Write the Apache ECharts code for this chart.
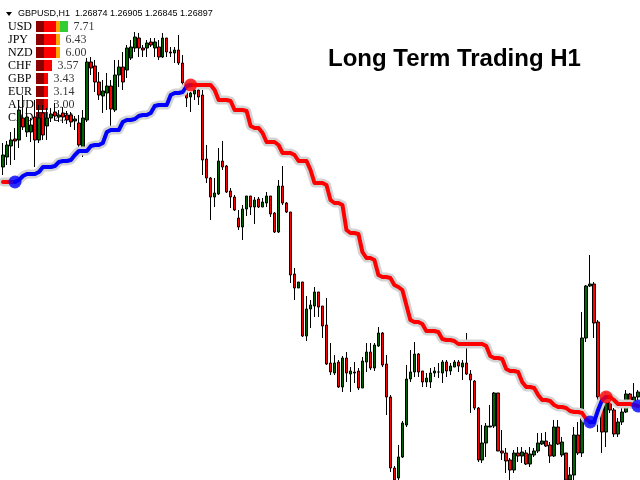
<!DOCTYPE html>
<html>
<head>
<meta charset="utf-8">
<script src="https://cdn.jsdelivr.net/npm/echarts@6/dist/echarts.min.js"></script>
<style>
  html, body { margin: 0; padding: 0; background: #fff; }
  #chart { width: 640px; height: 480px; }
</style>
</head>
<body>
<div id="chart"></div>
<script>
// GBPUSD H1, prices in chart points (higher = higher price)
var opens = [313,323,334,341,340,362,348,348,363,340, 367,354,362,368,363,367,365,365,359,357,
  327,360,418,414,398,384,387,394,370,405, 413,410,422,432,442,432,432,438,432,433,
  423,442,428,427,430,417,388,383,386,390, 385,321,302,283,286,319,314,289,283,262,
  253,271,284,273,281,273,277,284,267,248, 294,277,268,206,192,198,144,171,174,188,
  174,155,117,107,118,93,122,106,108,109, 92,118,128,112,134,147,116,83,12,2,
  23,55,101,108,126,109,98,98,107,108, 107,118,109,113,118,113,117,106,99,72,
  20,37,53,54,87,29,27,20,10,27, 24,27,16,25,29,36,39,35,24,53,
  25,27,0,5,45,27,142,194,196,158, 83,48,78,70,46,58,68,86,77,83];
var closes = [325,335,340,339,370,353,363,355,340,362, 345,362,366,364,365,363,360,358,361,335,
  362,418,412,398,385,389,394,371,405,413, 398,432,433,443,432,430,437,435,438,423,
  442,428,427,430,417,397,382,387,390,383, 320,302,283,287,319,313,288,283,270,253,
  271,284,273,280,273,278,284,266,248,294, 277,268,205,192,198,144,171,175,188,173,
  154,116,108,117,93,122,107,109,107,92, 119,128,112,135,147,115,83,12,0,23,
  57,101,108,126,108,98,102,107,109,108, 118,109,114,118,114,117,106,100,72,20,
  37,54,54,87,29,27,19,10,27,24, 28,16,26,29,37,39,34,24,53,36,
  38,0,5,45,27,142,194,196,157,83, 48,77,70,46,58,68,86,77,83,88];
var lows = [305,315,315,320,332,350,343,338,313,337, 340,340,358,360,358,357,356,353,350,330,
  323,358,405,388,380,367,370,353,368,393, 390,402,420,428,423,423,423,433,423,420,
  422,423,423,417,415,390,373,368,380,375, 305,297,260,273,285,310,287,272,269,250,
  240,264,265,256,272,273,273,263,247,247, 275,267,197,180,192,143,139,152,163,163,
  142,115,105,105,92,88,98,88,97,90, 92,108,110,109,133,113,65,8,-4,-2,
  22,53,98,103,103,93,93,92,103,102, 97,103,105,113,108,100,105,67,70,18,
  17,23,53,52,29,20,7,0,7,18, 17,15,13,23,27,35,33,17,23,35,
  23,-5,-5,-2,25,23,138,193,142,48, 27,33,67,43,43,55,67,75,73,80];
var highs = [337,339,348,352,380,385,372,362,380,375, 375,372,372,377,370,373,369,368,364,365,
  370,422,423,420,408,400,407,400,420,420, 428,435,440,448,447,435,440,442,442,440,
  447,442,433,433,445,425,397,388,392,392, 390,335,303,302,332,339,315,292,285,270,
  275,284,284,283,283,282,288,284,268,300, 314,278,268,212,198,198,184,180,193,188,
  174,182,137,125,120,124,128,113,118,112, 123,137,137,137,153,148,125,85,14,35,
  59,115,130,138,127,109,107,112,113,117, 120,120,117,120,120,120,147,110,100,73,
  55,57,75,88,87,50,32,22,30,33, 33,30,33,32,47,47,48,38,60,60,
  43,27,13,53,58,168,195,225,198,160, 85,88,83,72,62,72,90,87,97,90];

// long term trend line, one value per bar
var trend = [298,298,298,298,300,304,306,306,306,308, 313,313,313,314,318,319,319,320,325,329,
  329,329,334,335,335,337,348,350,350,350, 358,360,360,361,364,365,365,367,374,375,
  375,375,385,387,387,388,394,395,395,395, 395,395,395,390,380,380,380,379,370,370,
  370,369,354,352,352,347,338,338,338,335, 327,327,327,325,319,319,319,310,297,297,
  297,295,280,277,277,275,250,247,247,246, 228,222,222,220,205,203,203,202,195,193,
  190,175,160,158,158,156,149,149,149,148, 141,140,140,139,136,136,136,136,136,136,
  136,134,124,122,122,121,111,109,109,108, 98,93,93,92,85,80,80,79,75,73,
  73,72,69,68,68,67,61,58,58,70, 80,83,83,80,76,76,76,76,75,74];
// trend changes: [bar index, direction]
var signals = [[3, 'up'], [47, 'down'], [147, 'up'], [151, 'down'], [159, 'up']];

// currency strength panel
var currencies = ['USD', 'JPY', 'NZD', 'CHF', 'GBP', 'EUR', 'AUD', 'CAD'];
var strength = [7.71, 6.43, 6.00, 3.57, 3.43, 3.14, 3.00, 2.71];

var symbolName = 'GBPUSD';
var timeframe = 'H1';
var lastQuote = ['1.26874', '1.26905', '1.26845', '1.26897'];
var titleText = 'Long Term Trading H1';

var myChart = echarts.init(document.getElementById('chart'));

var bars = opens.map(function (o, i) { return [o, closes[i], lows[i], highs[i]]; });
var cats = opens.map(function (o, i) { return i; });

// direction of every bar from the signals
var dirAt = [];
var cur = signals[0][1] === 'up' ? 'down' : 'up';
var s = 0;
for (var i = 0; i < trend.length; i++) {
  if (s < signals.length && signals[s][0] === i) { cur = signals[s][1]; s++; }
  dirAt.push(cur);
}
function lineFor(d) {
  return trend.map(function (v, i) {
    return (dirAt[i] === d || (i > 0 && dirAt[i - 1] === d)) ? v : null;
  });
}

// strength blocks: 2 dark red, 3 red, 1 orange, rest green
var units = strength.map(function (v) { return Math.round(v); });
var segDark = units.map(function (u) { return Math.min(u, 2); });
var segRed = units.map(function (u) { return Math.min(Math.max(u - 2, 0), 3); });
var segOrange = units.map(function (u) { return Math.min(Math.max(u - 5, 0), 1); });
var segGreen = units.map(function (u) { return Math.max(u - 6, 0); });

var option = {
  backgroundColor: '#ffffff',
  animation: false,
  grid: [
    { left: 1, right: 0, top: 0, bottom: 0 },
    { left: 36, top: 20, width: 40, height: 104 }
  ],
  xAxis: [
    { type: 'category', data: cats, boundaryGap: true, show: false, gridIndex: 0 },
    { type: 'value', min: 0, max: 10, show: false, gridIndex: 1 }
  ],
  yAxis: [
    { type: 'value', min: 0, max: 480, show: false, gridIndex: 0 },
    {
      type: 'category', data: currencies, inverse: true, gridIndex: 1,
      axisLine: { show: false }, axisTick: { show: false }, splitLine: { show: false },
      axisLabel: { interval: 0, margin: 28, align: 'left', color: '#000', fontFamily: 'Liberation Serif', fontSize: 12 }
    }
  ],
  graphic: [
    { type: 'polygon', shape: { points: [[6, 12], [12, 12], [9, 16]] }, style: { fill: '#000' } },
    {
      type: 'text',
      style: {
        text: symbolName + ',' + timeframe + '  ' + lastQuote.join(' '),
        x: 18, y: 14, verticalAlign: 'middle',
        font: '9px "Liberation Sans"', fill: '#000'
      }
    },
    {
      type: 'text',
      style: {
        text: titleText, x: 328, y: 59, verticalAlign: 'middle',
        font: 'bold 24px "Liberation Sans"', fill: '#000'
      }
    }
  ],
  series: [
    { type: 'bar', xAxisIndex: 1, yAxisIndex: 1, stack: 'st', data: segDark, barWidth: 11, itemStyle: { color: '#8b0000' }, z: 1 },
    { type: 'bar', xAxisIndex: 1, yAxisIndex: 1, stack: 'st', data: segRed, barWidth: 11, itemStyle: { color: '#ff0000' }, z: 1 },
    { type: 'bar', xAxisIndex: 1, yAxisIndex: 1, stack: 'st', data: segOrange, barWidth: 11, itemStyle: { color: '#ffa500' }, z: 1 },
    { type: 'bar', xAxisIndex: 1, yAxisIndex: 1, stack: 'st', data: segGreen, barWidth: 11, itemStyle: { color: '#32cd32' }, z: 1 },
    {
      type: 'scatter', xAxisIndex: 1, yAxisIndex: 1, symbolSize: 1,
      itemStyle: { color: 'rgba(0,0,0,0)' },
      data: units.map(function (u, i) { return [u, i]; }),
      label: {
        show: true, position: 'right', distance: 5, color: '#000',
        fontFamily: 'Liberation Serif', fontSize: 12,
        formatter: function (p) { return strength[p.dataIndex].toFixed(2); }
      },
      z: 1
    },
    {
      type: 'candlestick', data: bars, barWidth: 3, clip: true,
      itemStyle: {
        color: '#006400', color0: '#ff0000',
        borderColor: '#000', borderColor0: '#000', borderColorDoji: '#000', borderWidth: 1
      },
      z: 2
    },
    {
      type: 'line', data: trend, symbol: 'none', silent: true,
      lineStyle: { color: '#d3d3d3', width: 9, cap: 'round', join: 'round' }, z: 3
    },
    {
      type: 'line', data: lineFor('down'), symbol: 'none', connectNulls: false,
      lineStyle: { color: '#ff0000', width: 4, cap: 'round', join: 'round' }, z: 4
    },
    {
      type: 'line', data: lineFor('up'), symbol: 'none', connectNulls: false,
      lineStyle: { color: '#0000ff', width: 4, cap: 'round', join: 'round' }, z: 4
    },
    {
      type: 'scatter', symbolSize: 13,
      data: signals.map(function (sg) {
        return { value: [sg[0], trend[sg[0]]], itemStyle: { color: sg[1] === 'up' ? '#0000ff' : '#ff0000' } };
      }),
      z: 5
    }
  ]
};
myChart.setOption(option);
</script>
</body>
</html>
